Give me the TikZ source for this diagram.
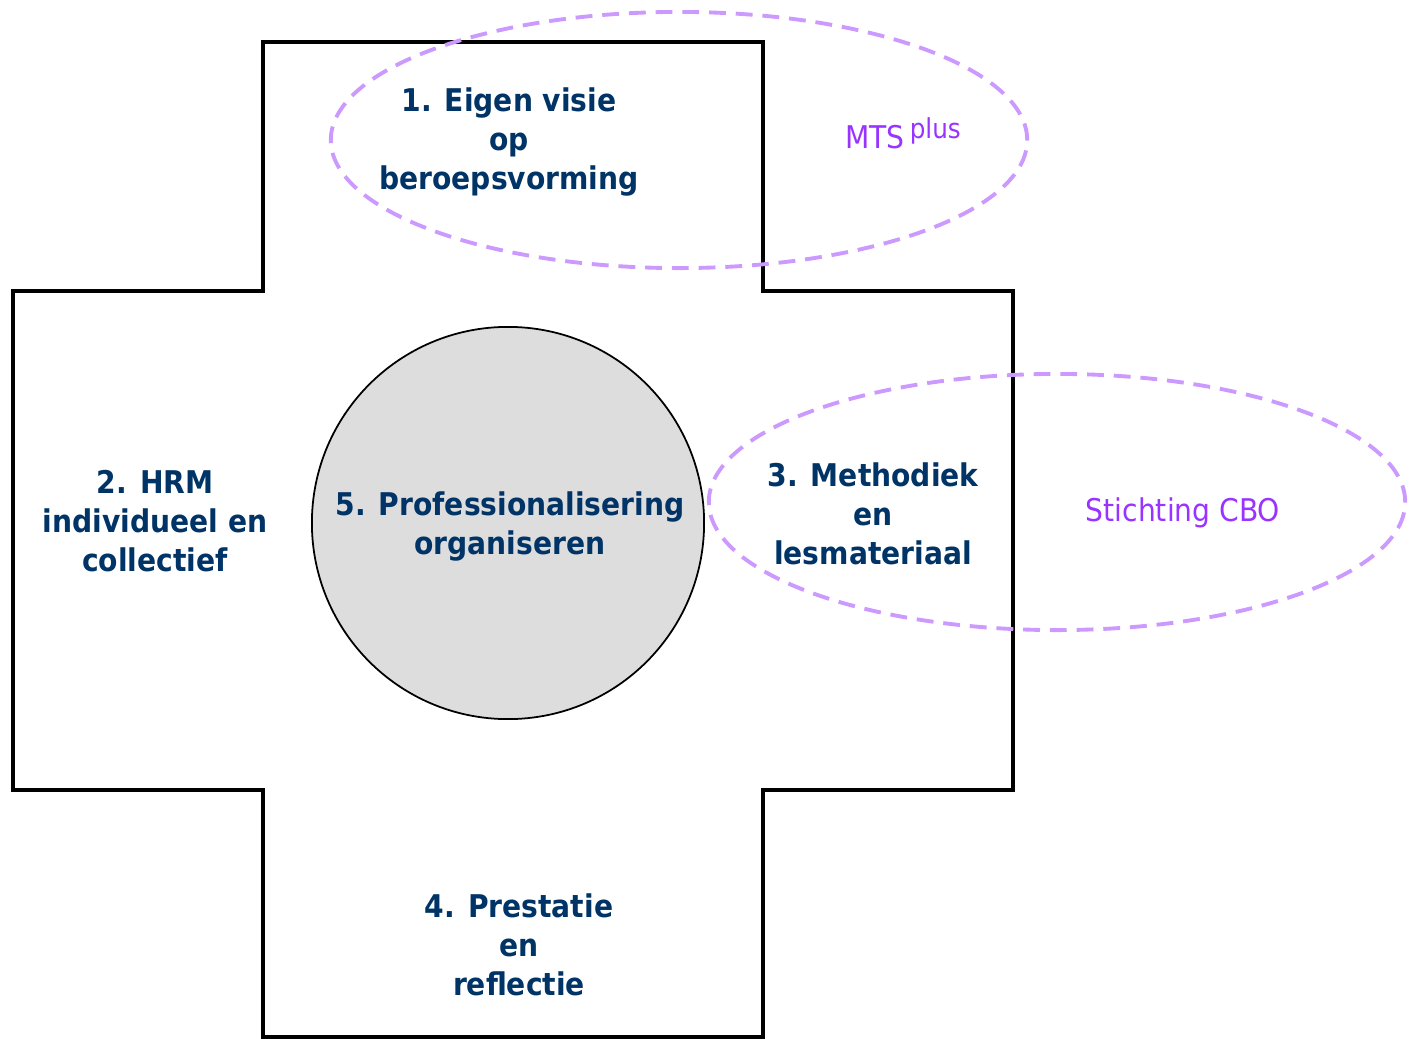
\documentclass[tikz,border=0pt]{standalone}
\usepackage{fontspec}
\setmainfont{DejaVu Sans Condensed}
\definecolor{visnavy}{RGB}{0,51,102}
\definecolor{vispurple}{RGB}{153,51,255}
\definecolor{vislilac}{RGB}{204,153,255}
\definecolor{visgrey}{RGB}{221,221,221}
\tikzset{every picture/.style={/utils/exec={\fontsize{8.9}{11.1}\selectfont}}}
\tikzset{
  part/.style={text=visnavy, font=\bfseries, align=center, inner sep=0pt},
  partner/.style={text=vispurple, inner sep=0pt},
  ring/.style={draw=vislilac, line width=1.1pt, dash pattern=on 4.8pt off 2.8pt}
}

\begin{document}
\begin{tikzpicture}[x=0.01cm, y=-0.01cm]
  \useasboundingbox (0,0) rectangle (1414,1039);

  % the cross
  \draw [line width=0.9pt] (263,42) -- (763,42) -- (763,291) -- (1013,291) -- (1013,790)
    -- (763,790) -- (763,1037) -- (263,1037) -- (263,790) -- (13,790) -- (13,291)
    -- (263,291) -- cycle;

  % centre
  \node [circle, draw, line width=0.5pt, fill=visgrey, minimum size=3.92cm,
         part] (prof) at (508,523) {};
  \node [part] (proftext) at (510,526) {5. Professionalisering\\ organiseren};

  % arms
  \node [part] (visie) at (509,142) {1. Eigen visie\\ op\\ beroepsvorming};
  \node [part] (hrm) at (155,521) {2. HRM\\ individueel en\\ collectief};
  \node [part] (methode) at (873,514) {3. Methodiek\\ en\\ lesmateriaal};
  \node [part] (prestatie) at (519,945) {4. Prestatie\\ en\\ reflectie};

  % partners:
  \draw [ring] (679,140) ellipse [x radius=3.48cm, y radius=1.28cm];
  \draw [ring] (1057,502) ellipse [x radius=3.48cm, y radius=1.28cm];

  \node [partner] (mts) at (903,133) {MTS\,\raisebox{0.6ex}{\fontsize{7.8}{9}\selectfont plus}};
  \node [partner] (cbo) at (1183,513) {Stichting CBO};
\end{tikzpicture}
\end{document}
